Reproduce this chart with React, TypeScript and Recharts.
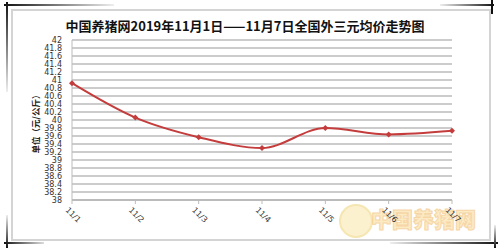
import React from 'react'
import { LineChart, Line, XAxis, YAxis, CartesianGrid } from 'recharts'

const title = '中国养猪网2019年11月1日——11月7日全国外三元均价走势图'
const yLabel = '单位（元/公斤）'
const dates = ['11/1', '11/2', '11/3', '11/4', '11/5', '11/6', '11/7']
const prices = [40.92, 40.06, 39.57, 39.3, 39.8, 39.64, 39.73]
const yTicks = [
  38, 38.2, 38.4, 38.6, 38.8, 39, 39.2, 39.4, 39.6, 39.8, 40,
  40.2, 40.4, 40.6, 40.8, 41, 41.2, 41.4, 41.6, 41.8, 42,
]

const data = dates.map((d, i) => ({ date: d, price: prices[i] }))

const RED = '#c43c3c'
const GRID = '#cccccc'

const XTick = ({ x, y, payload }: any) => (
  <g transform={`translate(${x + 1},${y + 9})`}>
    <text
      transform="rotate(45)"
      textAnchor="middle"
      dominantBaseline="middle"
      fontSize={8}
      fontFamily="'DejaVu Sans', sans-serif"
      fill="#333"
    >
      {payload.value}
    </text>
  </g>
)

const Dot = ({ cx, cy }: any) => (
  <path d={`M${cx - 3},${cy} L${cx},${cy - 3} L${cx + 3},${cy} L${cx},${cy + 3} Z`} fill={RED} />
)

const abs = (s: React.CSSProperties): React.CSSProperties => ({ position: 'absolute', ...s })

export default function App() {
  return (
    <div style={{ position: 'fixed', left: 0, top: 0, width: 500, height: 248, background: '#fff', overflow: 'hidden' }}>
      {/* frame */}
      <div style={abs({ left: 11, top: 9, width: 476, height: 228, border: '2px solid #d4d4d4' })} />
      {/* corner marks */}
      <div style={abs({ left: 4, top: 4, width: 110, height: 2, background: 'linear-gradient(to right, #111, #eee)' })} />
      <div style={abs({ left: 6, top: 2, width: 2, height: 90, background: 'linear-gradient(to bottom, #111, #eee)' })} />
      <div style={abs({ left: 6, top: 215, width: 2, height: 33, background: 'linear-gradient(to bottom, #eee, #111)' })} />
      <div style={abs({ left: 4, top: 242, width: 40, height: 2, background: 'linear-gradient(to right, #111, #ddd)' })} />
      <div style={abs({ left: 440, top: 4, width: 54, height: 2, background: 'linear-gradient(to right, #eee, #111)' })} />
      <div style={abs({ left: 491, top: 0, width: 2, height: 14, background: '#111' })} />
      <div style={abs({ left: 390, top: 242, width: 108, height: 2, background: 'linear-gradient(to right, #eee, #111)' })} />
      <div style={abs({ left: 494, top: 225, width: 2, height: 23, background: 'linear-gradient(to bottom, #eee, #111)' })} />

      {/* title */}
      <div
        style={abs({
          left: 0, top: 16, width: 490, textAlign: 'center',
          fontFamily: "'Noto Sans CJK SC', sans-serif", fontWeight: 700, fontSize: 13, color: '#111',
          whiteSpace: 'nowrap',
        })}
      >
        {title}
      </div>

      {/* y axis title */}
      <div
        style={abs({
          left: 35, top: 122, transform: 'translate(-50%, -50%) rotate(-90deg)',
          fontFamily: "'Noto Sans CJK SC', sans-serif", fontWeight: 700, fontSize: 8.5, color: '#222',
          whiteSpace: 'nowrap',
        })}
      >
        {yLabel}
      </div>

      {/* watermark */}
      <div style={abs({ left: 339, top: 204, width: 30, height: 30, borderRadius: '50%', background: '#fbeec4', border: '2px solid #f5e0a0', opacity: 0.8 })} />
      <div
        style={abs({
          left: 371, top: 203, fontFamily: "'Noto Sans CJK SC', sans-serif", fontWeight: 900, fontSize: 21,
          color: '#fbe3b0', WebkitTextStroke: '1px #f3c98a', opacity: 0.75, whiteSpace: 'nowrap',
        })}
      >
        中国养猪网
      </div>

      <div style={abs({ left: 0, top: 0 })}>
        <LineChart width={500} height={248} data={data} margin={{ top: 40, right: 48, bottom: 18, left: 0 }}>
          <CartesianGrid stroke={GRID} strokeWidth={2} vertical={false} />
          <XAxis
            dataKey="date"
            height={30}
            interval={0}
            tick={<XTick />}
            tickSize={4}
            tickLine={{ stroke: '#bbb' }}
            axisLine={{ stroke: '#bbb', strokeWidth: 2 }}
          />
          <YAxis
            width={72}
            domain={[38, 42]}
            ticks={yTicks}
            interval={0}
            tickLine={false}
            axisLine={{ stroke: '#bbb', strokeWidth: 1 }}
            tickMargin={4}
            tick={{ fontSize: 8, fill: '#333', fontFamily: "'DejaVu Sans', sans-serif" }}
          />
          <Line
            type="monotone"
            dataKey="price"
            stroke={RED}
            strokeWidth={2}
            dot={<Dot />}
            activeDot={false}
            isAnimationActive={false}
          />
        </LineChart>
      </div>
    </div>
  )
}
